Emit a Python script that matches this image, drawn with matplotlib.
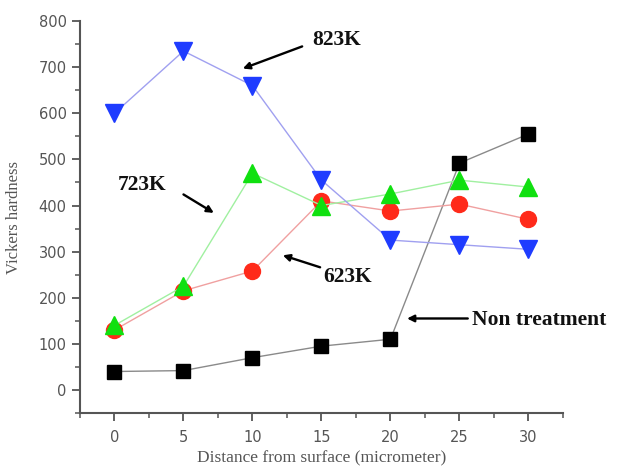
import matplotlib.pyplot as plt
from matplotlib.ticker import MultipleLocator

# distance from surface (micrometer)
distance = [0, 5, 10, 15, 20, 25, 30]

# Vickers hardness
non_treatment = [40, 42, 70, 95, 110, 492, 555]
hv_623k = [130, 215, 258, 410, 388, 403, 370]
hv_723k = [140, 225, 470, 400, 425, 455, 440]
hv_823k = [600, 735, 660, 455, 325, 315, 305]

fig = plt.figure(figsize=(6.19, 4.68), dpi=100)
ax = fig.add_axes([0.1292, 0.1175, 0.7803, 0.8375])

ax.plot(distance, non_treatment, color='#8a8a8a', lw=1, marker='s', ms=10,
        mfc='black', mec='black', zorder=3)
ax.plot(distance, hv_623k, color='#f0a0a0', lw=1, marker='o', ms=11.5,
        mfc='#ff2a1a', mec='#ff2a1a', zorder=3)
ax.plot(distance, hv_723k, color='#a0f0a0', lw=1, marker='^', ms=13,
        mfc='#10e010', mec='#10e010', zorder=3)
ax.plot(distance, hv_823k, color='#a0a0f0', lw=1, marker='v', ms=13,
        mfc='#1f3cff', mec='#1f3cff', zorder=3)

ax.set_xlim(-2.5, 32.5)
ax.set_ylim(-50, 800)
ax.xaxis.set_major_locator(MultipleLocator(5))
ax.xaxis.set_minor_locator(MultipleLocator(2.5))
ax.yaxis.set_major_locator(MultipleLocator(100))
ax.yaxis.set_minor_locator(MultipleLocator(50))

for s in ['top', 'right']:
    ax.spines[s].set_visible(False)
for s in ['left', 'bottom']:
    ax.spines[s].set_color('#555555')
    ax.spines[s].set_linewidth(1.5)
ax.tick_params(which='major', direction='out', length=6, width=1.3,
               color='#555555', labelcolor='#555555', labelsize=10.5)
ax.tick_params(axis='x', which='major', pad=6)
ax.tick_params(which='minor', direction='out', length=3.5, width=1.1,
               color='#555555')

ax.set_xlabel('Distance from surface (micrometer)', family='Liberation Serif',
              fontsize=12.5, color='#555555', labelpad=4)
ax.set_ylabel('Vickers hardness', family='Liberation Serif',
              fontsize=12, color='#555555', labelpad=12)

arrow = dict(arrowstyle='-|>', color='black', lw=1.7, mutation_scale=10,
             shrinkA=0, shrinkB=0)
txt = dict(family='Liberation Serif', fontweight='bold', fontsize=15.5,
           va='center', ha='left', color='#111111')

ax.annotate('', xy=(9.3, 697), xytext=(13.6, 745), arrowprops=arrow)
ax.text(14.3, 759, '823K', **txt)
ax.annotate('', xy=(7.2, 384), xytext=(5.0, 424), arrowprops=arrow)
ax.text(0.25, 445, '723K', **txt)
ax.annotate('', xy=(12.2, 292), xytext=(14.9, 266), arrowprops=arrow)
ax.text(15.1, 244, '623K', **txt)
ax.annotate('', xy=(21.2, 155), xytext=(25.6, 155), arrowprops=arrow)
ax.text(25.9, 152, 'Non treatment', clip_on=False, **txt)

fig.savefig('out.png', dpi=100)
